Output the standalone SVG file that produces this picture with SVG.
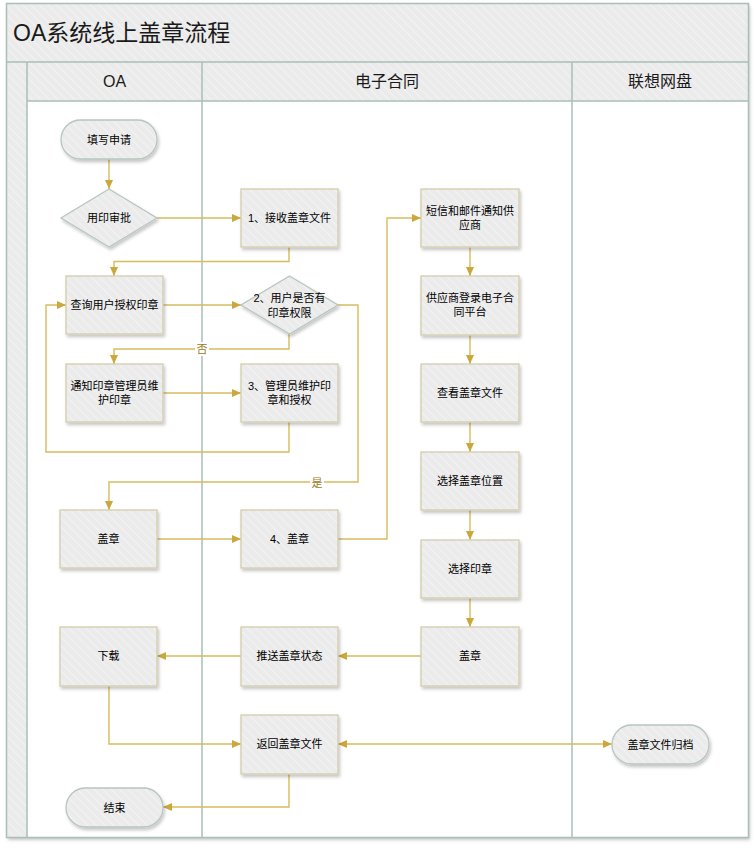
<svg xmlns="http://www.w3.org/2000/svg" width="756" height="848" viewBox="0 0 756 848">
<defs>
<pattern id="hatch" width="6" height="6" patternUnits="userSpaceOnUse" patternTransform="rotate(-45)">
<rect width="6" height="6" fill="#ebebeb"/>
<line x1="0" y1="0" x2="0" y2="6" stroke="#f6f6f6" stroke-width="1.5"/>
</pattern>
<filter id="sh" x="-10%" y="-10%" width="130%" height="140%">
<feDropShadow dx="1.5" dy="2.5" stdDeviation="1.5" flood-color="#000" flood-opacity="0.22"/>
</filter>
<marker id="arr" viewBox="0 0 9 8" refX="9" refY="4" markerWidth="9" markerHeight="8" markerUnits="userSpaceOnUse" orient="auto-start-reverse">
<path d="M0,0 L9,4 L0,8 z" fill="#caa83c"/>
</marker>
</defs>
<style>
.lane{stroke:#a9bfb7;stroke-width:1.5;fill:none}
.hdr{font-family:"Liberation Sans","Noto Sans CJK SC",sans-serif;font-size:16px;fill:#1a1a1a;text-anchor:middle}
.ttl{font-family:"Liberation Sans","Noto Sans CJK SC",sans-serif;font-size:23px;fill:#1a1a1a}
.box{fill:url(#hatch);stroke:#d4ccaa;stroke-width:1.3;filter:url(#sh)}
.term{fill:url(#hatch);stroke:#b7c6bf;stroke-width:1.3;filter:url(#sh)}
.t{font-family:"Liberation Sans","Noto Sans CJK SC",sans-serif;font-size:11px;fill:#000;text-anchor:middle}
.c{fill:none;stroke:#d7bb5e;stroke-width:1.4;marker-end:url(#arr)}
.lbl{font-family:"Liberation Sans","Noto Sans CJK SC",sans-serif;font-size:11px;fill:#9a7a1e;text-anchor:middle}
</style>
<g id="pool">
<rect x="6.5" y="3.5" width="742" height="834" fill="#fff" filter="url(#sh)"/>
<rect x="6.5" y="3.5" width="742" height="59" fill="url(#hatch)"/>
<rect x="27" y="62" width="721.5" height="39" fill="url(#hatch)"/>
<rect x="6.5" y="62" width="20.5" height="775.5" fill="url(#hatch)"/>
<rect x="6.5" y="3.5" width="742" height="834" class="lane"/>
<line x1="6.5" y1="62" x2="748.5" y2="62" class="lane"/>
<line x1="27" y1="101" x2="748.5" y2="101" class="lane"/>
<line x1="27" y1="62" x2="27" y2="837.5" class="lane"/>
<line x1="202" y1="62" x2="202" y2="837.5" class="lane"/>
<line x1="572" y1="62" x2="572" y2="837.5" class="lane"/>
<text x="13" y="41" class="ttl">OA系统线上盖章流程</text>
<text x="114.5" y="87" class="hdr">OA</text>
<text x="387" y="87" class="hdr">电子合同</text>
<text x="660" y="87" class="hdr">联想网盘</text>
</g>
<g id="connectors">
<path class="c" d="M109,159 V189"/>
<path class="c" d="M157,218 H241"/>
<path class="c" d="M289,246 V261.5 H114 V276"/>
<path class="c" d="M163,305 H241"/>
<path class="c" d="M289,334 V349 H114 V364"/>
<path class="c" d="M163,393 H241"/>
<path class="c" d="M289,422 V452 H46 V305 H66"/>
<path class="c" d="M338,305 H358 V482 H109 V510"/>
<path class="c" d="M157,539 H241"/>
<path class="c" d="M338,539 H387 V218 H421"/>
<path class="c" d="M470,247 V276"/>
<path class="c" d="M470,335 V364"/>
<path class="c" d="M470,422 V452"/>
<path class="c" d="M470,510 V540"/>
<path class="c" d="M470,598 V627"/>
<path class="c" d="M421,656 H338"/>
<path class="c" d="M241,656 H157"/>
<path class="c" d="M109,686 V744 H241"/>
<path class="c" d="M612,744 H338" style="marker-start:url(#arr)"/>
<path class="c" d="M289,774 V807 H163"/>
<rect x="195" y="342" width="14" height="14" fill="#fff"/>
<text x="202" y="353" class="lbl">否</text>
<rect x="310" y="475" width="14" height="14" fill="#fff"/>
<text x="317" y="486.5" class="lbl">是</text>
</g>
<g id="n_start"><rect x="61" y="120" width="96" height="39" rx="19.5" class="term"/><text x="109" y="143.5" class="t">填写申请</text></g>
<g id="n_approve"><path d="M109,189 L157,218 L109,247 L61,218 z" class="term"/><text x="109" y="222" class="t">用印审批</text></g>
<g id="n_recv"><rect x="241" y="189" width="97" height="58" class="box"/><text x="289.5" y="222" class="t">1、接收盖章文件</text></g>
<g id="n_query"><rect x="66" y="276" width="97" height="58" class="box"/><text x="114.5" y="309" class="t">查询用户授权印章</text></g>
<g id="n_check"><path d="M289.5,276 L338,305 L289.5,334 L241,305 z" class="term"/><text x="289.5" y="302" class="t">2、用户是否有</text><text x="289.5" y="317" class="t">印章权限</text></g>
<g id="n_notify"><rect x="66" y="364" width="97" height="58" class="box"/><text x="114.5" y="390" class="t">通知印章管理员维</text><text x="114.5" y="404" class="t">护印章</text></g>
<g id="n_maint"><rect x="241" y="364" width="97" height="58" class="box"/><text x="289.5" y="390" class="t">3、管理员维护印</text><text x="289.5" y="404" class="t">章和授权</text></g>
<g id="n_seal_oa"><rect x="60" y="510" width="97" height="58" class="box"/><text x="108.5" y="543" class="t">盖章</text></g>
<g id="n_seal4"><rect x="241" y="510" width="97" height="58" class="box"/><text x="289.5" y="543" class="t">4、盖章</text></g>
<g id="n_sms"><rect x="421" y="189" width="98" height="58" class="box"/><text x="470" y="215" class="t">短信和邮件通知供</text><text x="470" y="229" class="t">应商</text></g>
<g id="n_login"><rect x="421" y="276" width="98" height="59" class="box"/><text x="470" y="302" class="t">供应商登录电子合</text><text x="470" y="316" class="t">同平台</text></g>
<g id="n_view"><rect x="421" y="364" width="98" height="58" class="box"/><text x="470" y="397" class="t">查看盖章文件</text></g>
<g id="n_pos"><rect x="421" y="452" width="98" height="58" class="box"/><text x="470" y="485" class="t">选择盖章位置</text></g>
<g id="n_choose"><rect x="421" y="540" width="98" height="58" class="box"/><text x="470" y="573" class="t">选择印章</text></g>
<g id="n_seal_r"><rect x="421" y="627" width="98" height="59" class="box"/><text x="470" y="660" class="t">盖章</text></g>
<g id="n_push"><rect x="241" y="627" width="97" height="59" class="box"/><text x="289.5" y="660" class="t">推送盖章状态</text></g>
<g id="n_download"><rect x="60" y="627" width="97" height="59" class="box"/><text x="108.5" y="660" class="t">下载</text></g>
<g id="n_return"><rect x="241" y="715" width="97" height="59" class="box"/><text x="289.5" y="748" class="t">返回盖章文件</text></g>
<g id="n_end"><rect x="66" y="788" width="97" height="39" rx="19.5" class="term"/><text x="114.5" y="811.5" class="t">结束</text></g>
<g id="n_archive"><rect x="612" y="725" width="97" height="39" rx="19.5" class="term"/><text x="660.5" y="748.5" class="t">盖章文件归档</text></g>
</svg>
